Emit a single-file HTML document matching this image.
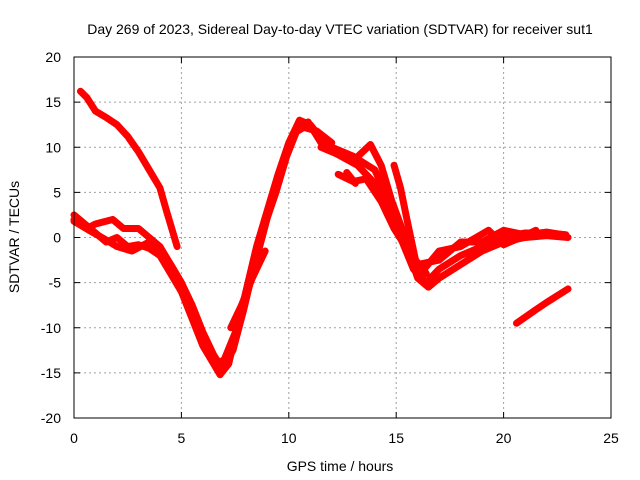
<!DOCTYPE html>
<html><head><meta charset="utf-8"><style>
body{margin:0;background:#fff}
svg{display:block;font-family:"Liberation Sans",sans-serif}
</style></head><body>
<svg id="c" width="640" height="480"></svg>
<script>
const xTicks=[0,5,10,15,20,25];
const yTicks=[-20,-15,-10,-5,0,5,10,15,20];
const traceA=[[0.3,16.2],[0.6,15.5],[1,14],[1.5,13.3],[2,12.5],[2.5,11.2],[3,9.5],[3.5,7.5],[4,5.5],[4.3,3],[4.8,-1]];
const traceB=[[0,2.5],[0.5,1.5],[1,0.5],[1.5,-0.5],[2,0],[2.5,-1],[3,-0.8],[3.5,-1.2],[4,-2],[4.5,-4],[5,-6],[5.5,-9],[6,-12],[6.5,-14],[6.8,-15.2],[7.2,-14],[7.5,-11],[8,-6],[8.5,-1],[9,3],[9.5,7],[10,10.5],[10.5,13],[11,12.5],[11.5,11],[12,10],[13,9],[14,7.5],[14.5,5],[15,2],[15.5,-1],[16,-4.5],[16.5,-5.5],[17,-4.5],[18,-3],[19,-1.5],[20,-0.5],[21,0],[22,0.2],[23,0]];
const traceB2=[[0,1.8],[0.7,0.8],[1.3,0],[2,-1],[2.7,-1.5],[3.5,-0.5],[4,-1.5],[4.5,-3],[5,-5],[5.5,-7.5],[6,-10.5],[6.5,-13],[6.9,-14.5],[7.4,-12.5],[7.9,-8],[8.4,-3],[8.9,1.5],[9.4,5],[9.9,9],[10.4,12],[10.9,12.8],[11.5,10.5],[12.2,9.3],[13.2,8],[14,6],[14.6,3],[15.2,0],[15.8,-3.5],[16.4,-5],[17,-3.5],[18,-2],[19,-1],[20,0],[21,0.5],[22,0.5],[22.9,0.3]];
const traceB3=[[5.2,-6.5],[5.8,-10],[6.3,-12.5],[6.7,-14],[7.0,-13.5],[7.6,-10],[8.2,-5],[8.7,-0.5],[9.2,4],[9.7,8],[10.2,11.5],[10.7,12.2],[11.3,11.8],[12,10.5]];
const traceC=[[0,2],[0.6,1],[1,1.5],[1.8,2],[2.3,1],[3,1],[3.5,0],[4,-1],[4.5,-3],[5,-5],[5.2,-6.5]];
const traceD=[[7.3,-10],[7.8,-7.5],[8.3,-4.5],[8.9,-1.5]];
const traceE=[[11.5,10],[12.5,9],[13,8.5],[13.8,10.3],[14.3,8],[14.8,4],[15.5,-0.5],[16,-3],[17,-2.5],[18,-0.5],[19,-0.5],[20,0.8],[21,0.3],[22,0.6],[22.8,0.3]];
const traceF=[[12.3,7],[13,6.2],[13.6,6.5],[14.3,4],[14.9,1],[15.3,-0.5],[15.8,-2.5],[16.3,-3.5],[17,-1.5],[18,-1],[19.3,0.8],[20,-0.8],[20.8,0],[21.5,0.8]];
const traceF2=[[14.9,8],[15.2,5.5],[15.5,2],[15.9,-2.5],[16.4,-4]];
const traceG=[[20.6,-9.5],[21.5,-8],[22,-7.2],[23,-5.7]];
const traceH=[[12.7,7.2],[13.1,6]];
const traces=[traceA,traceB,traceB2,traceB3,traceC,traceD,traceE,traceF,traceF2,traceG,traceH];
const L=74,R=611,T=57,Bm=418;
const sx=v=>L+(v-0)/25*(R-L);
const sy=v=>Bm-(v+20)/40*(Bm-T);
const NS="http://www.w3.org/2000/svg";
const svg=document.getElementById('c');
function mk(t,a,txt){const e=document.createElementNS(NS,t);for(const k in a)e.setAttribute(k,a[k]);if(txt!==undefined)e.textContent=txt;svg.appendChild(e);return e;}
xTicks.forEach(v=>{const x=sx(v);
 if(v>0&&v<25){const g=mk('line',{x1:x,x2:x,y1:T,y2:Bm,stroke:'#a0a0a0','stroke-dasharray':'2,3'});
 
 }
 const t=mk('text',{x:x,y:443,'text-anchor':'middle','font-size':14,fill:'#000'},v);
 
 
 mk('line',{x1:x,x2:x,y1:Bm,y2:Bm-6,stroke:'#000'});mk('line',{x1:x,x2:x,y1:T,y2:T+6,stroke:'#000'});
});
yTicks.forEach(v=>{const y=sy(v);
 if(v>-20&&v<20){const g=mk('line',{x1:L,x2:R,y1:y,y2:y,stroke:'#a0a0a0','stroke-dasharray':'2,3'});
 
 }
 const t=mk('text',{x:61,y:y+5,'text-anchor':'end','font-size':14,fill:'#000'},v);
 
 
 mk('line',{x1:L,x2:L+6,y1:y,y2:y,stroke:'#000'});mk('line',{x1:R,x2:R-6,y1:y,y2:y,stroke:'#000'});
});
traces.forEach(tr=>{
 const p=mk('polyline',{points:tr.map(d=>sx(d[0])+','+sy(d[1])).join(' '),fill:'none',stroke:'#ff0000','stroke-width':7,'stroke-linejoin':'round','stroke-linecap':'round'});
 
 
});
const f=mk('rect',{x:L,y:T,width:R-L,height:Bm-T,fill:'none',stroke:'#000'});


const ti=mk('text',{x:340,y:34,'text-anchor':'middle','font-size':14},'Day 269 of 2023, Sidereal Day-to-day VTEC variation (SDTVAR) for receiver sut1');


const xt=mk('text',{x:340,y:471,'text-anchor':'middle','font-size':14},'GPS time / hours');


const yt=mk('text',{x:0,y:0,'text-anchor':'middle','font-size':14,transform:'translate(19,237) rotate(-90)'},'SDTVAR / TECUs');


</script>
</body></html>
